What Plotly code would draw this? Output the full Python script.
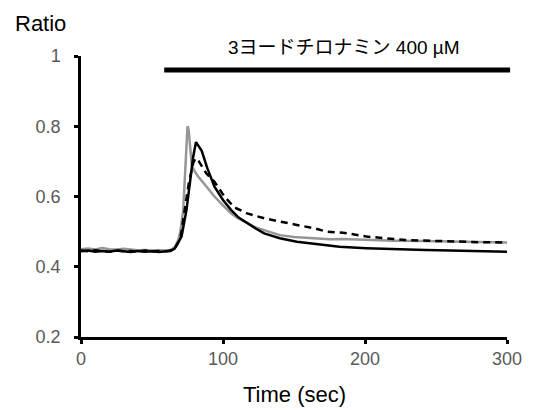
import plotly.graph_objects as go

# ---- data ----
gray_t = [0, 5, 10, 15, 20, 25, 30, 35, 40, 45, 50, 55, 60, 63, 66, 68.5, 70, 72, 73.9, 75, 75.8, 77, 78,
          80, 82.5, 86, 90, 94, 100, 105.6, 110, 117, 123, 130, 140, 150, 163.7, 175, 184, 200, 220, 240,
          260, 280, 300]
gray_v = [0.450, 0.452, 0.449, 0.453, 0.450, 0.449, 0.451, 0.448, 0.447, 0.448, 0.446, 0.447, 0.446, 0.448,
          0.455, 0.476, 0.500, 0.562, 0.704, 0.800, 0.790, 0.720, 0.690, 0.672, 0.657, 0.640, 0.620, 0.600,
          0.575, 0.552, 0.540, 0.524, 0.512, 0.503, 0.490, 0.485, 0.481, 0.478, 0.479, 0.476, 0.474, 0.473,
          0.471, 0.470, 0.469]

black_t = [0, 5, 10, 15, 20, 25, 30, 35, 40, 45, 50, 55, 60, 63, 66, 68, 70.8, 74.3, 76.7, 79, 81, 85,
           89, 94, 100, 105.6, 111, 117, 123, 129, 135, 140, 152, 163.7, 173, 182, 201, 220, 242.5, 260,
           280, 300]
black_v = [0.444, 0.446, 0.443, 0.445, 0.443, 0.446, 0.444, 0.442, 0.445, 0.443, 0.444, 0.442, 0.444,
           0.445, 0.452, 0.468, 0.486, 0.562, 0.638, 0.713, 0.755, 0.730, 0.680, 0.628, 0.590, 0.562,
           0.540, 0.524, 0.509, 0.495, 0.487, 0.481, 0.471, 0.465, 0.462, 0.457, 0.453, 0.450, 0.448,
           0.446, 0.445, 0.443]

dash_t = [0, 5, 10, 15, 20, 25, 30, 35, 40, 45, 50, 55, 60, 63, 66, 70, 73, 76, 79, 80.6, 83, 88.2, 94,
          101, 108, 117, 129, 140, 152, 163.7, 173, 184.5, 201, 228.6, 250, 265.7, 280, 300]
dash_v = [0.446, 0.444, 0.447, 0.445, 0.443, 0.446, 0.444, 0.445, 0.443, 0.446, 0.444, 0.445, 0.444,
          0.446, 0.452, 0.480, 0.560, 0.640, 0.695, 0.709, 0.700, 0.666, 0.642, 0.600, 0.569, 0.552,
          0.538, 0.528, 0.519, 0.510, 0.500, 0.497, 0.486, 0.476, 0.473, 0.471, 0.470, 0.469]

x_ticks = [0, 100, 200, 300]
x_tick_labels = ["0", "100", "200", "300"]
y_ticks = [0.2, 0.4, 0.6, 0.8, 1.0]
y_tick_labels = ["0.2", "0.4", "0.6", "0.8", "1"]

drug_label = "3ヨードチロナミン 400 µM"
drug_start = [58.6]
drug_end = [302.2]
drug_level = [0.96]
drug_label_pos = [185.5, 1.024]

X_RANGE = [0, 300]
Y_RANGE = [0.2, 1.0]

# ---- figure ----
fig = go.Figure()
fig.add_trace(go.Scatter(x=gray_t, y=gray_v, mode="lines",
                         line=dict(color="#969696", width=2.5)))
fig.add_trace(go.Scatter(x=dash_t, y=dash_v, mode="lines",
                         line=dict(color="black", width=2.5, dash="7px,5px")))
fig.add_trace(go.Scatter(x=black_t, y=black_v, mode="lines",
                         line=dict(color="black", width=2.5)))

# drug application bar (x in paper units so the end past 300 is not clipped)
def xpaper(v):
    return (v - X_RANGE[0]) / (X_RANGE[1] - X_RANGE[0])

def ypaper(v):
    return (v - Y_RANGE[0]) / (Y_RANGE[1] - Y_RANGE[0])

fig.add_shape(type="line", xref="paper", yref="y",
              x0=xpaper(drug_start[0]), x1=xpaper(drug_end[0]),
              y0=drug_level[0], y1=drug_level[0],
              line=dict(color="black", width=5))
fig.add_annotation(x=drug_label_pos[0], y=ypaper(drug_label_pos[1]), xref="x", yref="paper",
                   xanchor="center", yanchor="middle",
                   text=drug_label, showarrow=False,
                   font=dict(family="Liberation Sans, Noto Sans CJK JP", size=19, color="black"))

fig.add_annotation(x=-0.096, y=1.114, xref="paper", yref="paper", text="Ratio",
                   xanchor="center", yanchor="middle",
                   showarrow=False, font=dict(family="Liberation Sans", size=22, color="black"))
fig.add_annotation(x=0.5, y=-0.206, xref="paper", yref="paper", text="Time (sec)",
                   xanchor="center", yanchor="middle",
                   showarrow=False, font=dict(family="Liberation Sans", size=22, color="black"))

axis_common = dict(showgrid=False, zeroline=False, showline=True, linecolor="black", linewidth=2.5,
                   ticks="outside", ticklen=4, tickwidth=2.5, tickcolor="black",
                   tickfont=dict(family="Liberation Sans", size=18, color="#595959"))
fig.update_xaxes(range=X_RANGE, tickvals=x_ticks, ticktext=x_tick_labels, **axis_common)
fig.update_yaxes(range=Y_RANGE, tickvals=y_ticks, ticktext=y_tick_labels,
                 ticklabelstandoff=10, **axis_common)

# page body has an 8px margin; compensate so the plot sits where the reference does
fig.update_layout(width=526, height=402, showlegend=False,
                  margin=dict(l=73, r=21, t=48, b=73, pad=0),
                  plot_bgcolor="white", paper_bgcolor="white")

fig.write_html("out.html")
